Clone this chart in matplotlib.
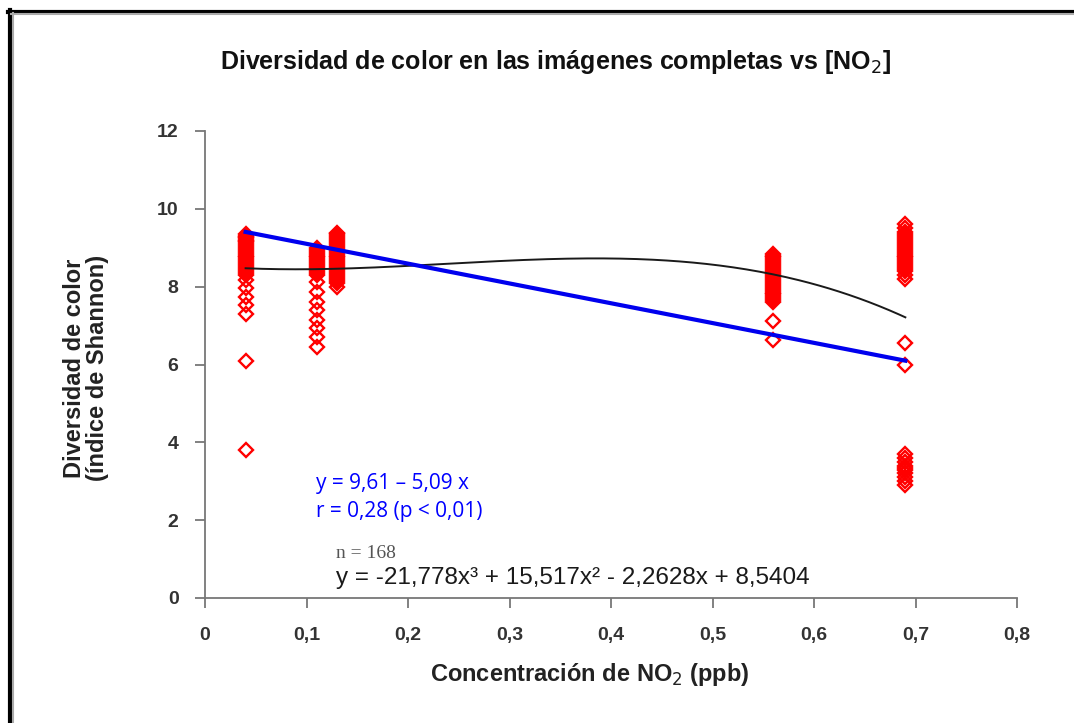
import matplotlib
matplotlib.use("Agg")
import matplotlib.pyplot as plt
import numpy as np
from matplotlib.lines import Line2D

# ---- data ----
x_levels = [0.04, 0.11, 0.13, 0.56, 0.69]
g1 = [9.35, 9.3, 9.28, 9.25, 9.2, 9.18, 9.15, 9.1, 9.05, 9.0, 8.95, 8.9, 8.85, 8.8, 8.75,
      8.7, 8.65, 8.6, 8.55, 8.5, 8.45, 8.4, 8.35, 8.3, 8.17, 7.96, 7.73, 7.53, 7.3, 6.1, 3.8]
g2 = [9.0, 8.95, 8.9, 8.85, 8.8, 8.75, 8.7, 8.65, 8.6, 8.55, 8.5, 8.45, 8.4, 8.35, 8.3,
      8.12, 7.86, 7.6, 7.4, 7.14, 6.94, 6.71, 6.45]
g3 = [9.38, 9.35, 9.3, 9.25, 9.2, 9.15, 9.1, 9.05, 9.0, 8.95, 8.9, 8.85, 8.8, 8.75, 8.7,
      8.65, 8.6, 8.55, 8.5, 8.45, 8.4, 8.35, 8.3, 8.25, 8.2, 8.15, 8.1, 8.0]
g4 = [8.85, 8.8, 8.75, 8.7, 8.65, 8.6, 8.55, 8.5, 8.45, 8.4, 8.35, 8.3, 8.25, 8.2, 8.15,
      8.1, 8.05, 8.0, 7.95, 7.9, 7.85, 7.8, 7.75, 7.7, 7.65, 7.6, 7.12, 6.63]
g5 = [9.6, 9.5, 9.4, 9.35, 9.3, 9.25, 9.2, 9.15, 9.1, 9.05, 9.0, 8.95, 8.9, 8.85, 8.8,
      8.75, 8.7, 8.65, 8.6, 8.55, 8.5, 8.45, 8.4, 8.3, 8.2, 6.55, 5.98,
      3.7, 3.6, 3.5, 3.4, 3.35, 3.3, 3.2, 3.1, 3.0, 2.9]
groups = [g1, g2, g3, g4, g5]

lin_coef = [-5.09, 9.61]                         # y = 9.61 - 5.09x
cub_coef = [-21.778, 15.517, -2.2628, 8.5404]    # cubic trend
fit_range = [0.04, 0.69]

xticks = [0, 0.1, 0.2, 0.3, 0.4, 0.5, 0.6, 0.7, 0.8]
xtick_labels = ["0", "0,1", "0,2", "0,3", "0,4", "0,5", "0,6", "0,7", "0,8"]
yticks = [0, 2, 4, 6, 8, 10, 12]

FAM = ["Liberation Sans", "DejaVu Sans"]

fig = plt.figure(figsize=(10.74, 7.23), dpi=100)
fig.patch.set_facecolor("white")
ax = fig.add_axes([205/1074, 1-598/723, 812/1074, 467/723])

xs = np.concatenate([[xv]*len(g) for xv, g in zip(x_levels, groups)])
ys = np.concatenate(groups)
ax.plot(xs, ys, linestyle="none", marker="D", markersize=7.2, markerfacecolor="none",
        markeredgecolor="#ff0000", markeredgewidth=1.7, zorder=3)

xf = np.linspace(fit_range[0], fit_range[1], 200)
ax.plot(xf, np.polyval(cub_coef, xf), color="#1a1a1a", lw=1.4, zorder=4)
ax.plot(xf, np.polyval(lin_coef, xf), color="#0000ee", lw=3.0, zorder=5)

ax.set_xlim(0, 0.8)
ax.set_ylim(0, 12)
ax.set_xticks(xticks)
ax.set_xticklabels(xtick_labels)
ax.set_yticks(yticks)
for s in ["top", "right"]:
    ax.spines[s].set_visible(False)
for s in ["left", "bottom"]:
    ax.spines[s].set_color("#777777")
    ax.spines[s].set_linewidth(1.3)
ax.tick_params(direction="out", length=7, width=1.3, color="#777777", labelcolor="#333333",
               labelsize=14)
ax.tick_params(axis="x", pad=14)
ax.tick_params(axis="y", pad=12)
for lab in ax.get_xticklabels() + ax.get_yticklabels():
    lab.set_family(FAM)
    lab.set_fontweight("bold")

fig.text(556/1074, 1-62/723, "Diversidad de color en las imágenes completas vs [NO$_2$]",
         ha="center", va="center", fontsize=18, fontweight="bold", family=FAM, color="#111111")
fig.text(590/1074, 1-675/723, "Concentración de NO$_2$ (ppb)", ha="center", va="center",
         fontsize=17, fontweight="bold", family=FAM, color="#222222")
fig.text(86/1074, 1-368/723, "Diversidad de color\n(índice de Shannon)", ha="center", va="center",
         rotation=90, fontsize=17, fontweight="bold", family=FAM, color="#222222",
         linespacing=1.0)

fig.text(316/1074, 1-484/723, "y = 9,61 – 5,09 x", ha="left", va="center", fontsize=15,
         color="#0000ff", family=["Open Sans", "DejaVu Sans"])
fig.text(316/1074, 1-512/723, "r = 0,28 (p < 0,01)", ha="left", va="center", fontsize=15,
         color="#0000ff", family=["Open Sans", "DejaVu Sans"])
fig.text(336/1074, 1-553/723, "n = 168", ha="left", va="center", fontsize=14,
         color="#555555", family=["Liberation Serif", "DejaVu Serif"])
fig.text(336/1074, 1-578/723, "y = -21,778x³ + 15,517x² - 2,2628x + 8,5404", ha="left",
         va="center", fontsize=17.5, color="#1a1a1a", family=FAM)

# frame (left and top borders)
fig.add_artist(Line2D([9.5/1074, 9.5/1074], [0, 1-10/723], color="black", lw=3,
                      transform=fig.transFigure))
fig.add_artist(Line2D([8/1074, 1], [1-11.5/723, 1-11.5/723], color="black", lw=3,
                      transform=fig.transFigure))
fig.add_artist(Line2D([12.5/1074, 12.5/1074], [0, 1-13/723], color="#aaaaaa", lw=1.5,
                      transform=fig.transFigure))
fig.add_artist(Line2D([11/1074, 1], [1-14/723, 1-14/723], color="#aaaaaa", lw=1.5,
                      transform=fig.transFigure))

fig.savefig("out.png", dpi=100)
